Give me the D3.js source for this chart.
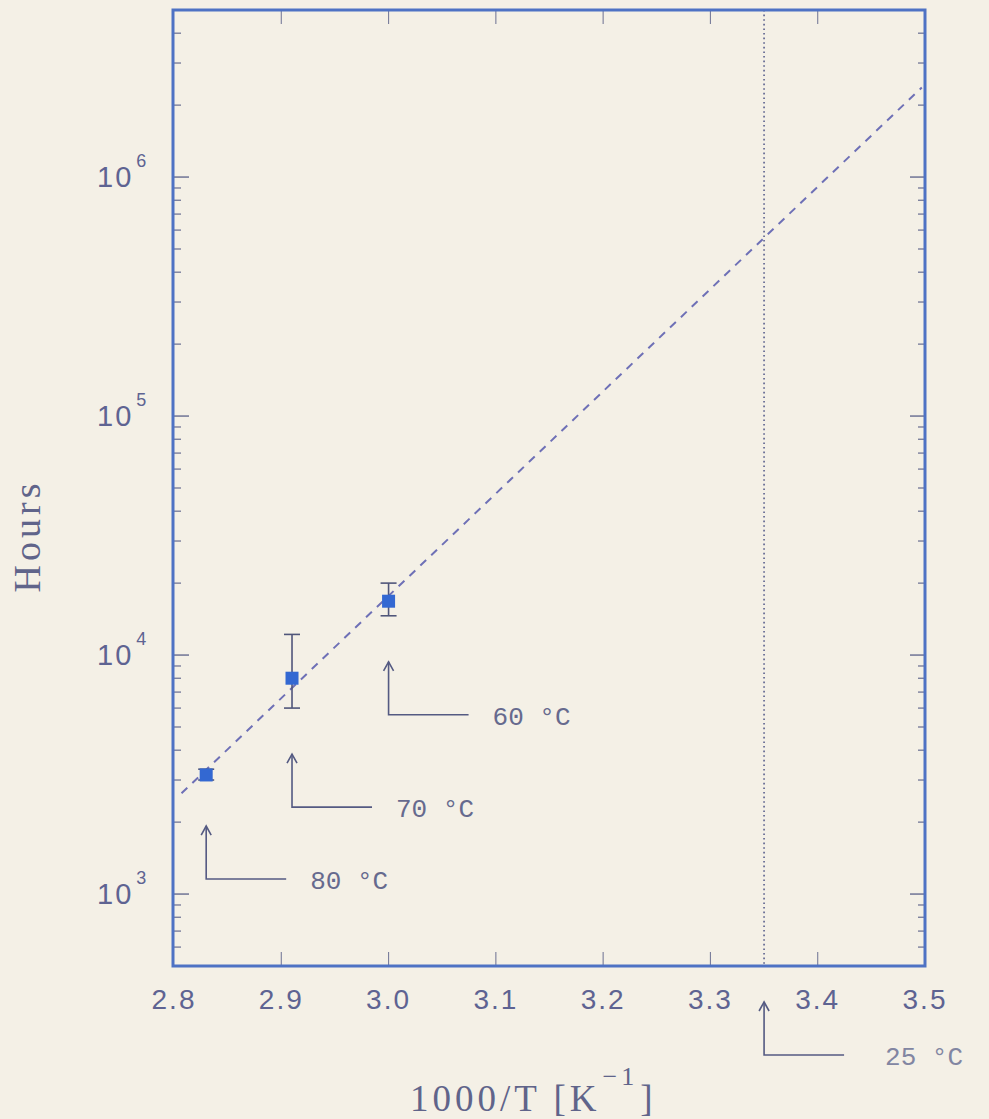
<!DOCTYPE html>
<html>
<head>
<meta charset="utf-8">
<script src="https://cdn.jsdelivr.net/npm/d3@7"></script>
<style>
    html, body { margin: 0; padding: 0; background: #f4f0e6; }
    svg { display: block; }
    .tick-label { font-family: "Liberation Sans", Arial, sans-serif; fill: #5e6392; }
    .axis-title { font-family: "Liberation Serif", "Times New Roman", serif; fill: #60648a; }
    .note { font-family: "Liberation Mono", "Courier New", monospace; fill: #666a8e; }
</style>
</head>
<body>
<svg id="chart"></svg>
<script>
// ===== DATA =====
const xTicks    = [2.8, 2.9, 3.0, 3.1, 3.2, 3.3, 3.4, 3.5];
const yDecades  = [3, 4, 5, 6];

const pointX    = [2.83, 2.91, 3.00];
const pointY    = [3150, 8000, 16800];
const errLow    = [3000, 6000, 14600];
const errHigh   = [3330, 12200, 20000];
const tempLabel = ['80 °C', '70 °C', '60 °C'];

// fitted line
const fitX = [2.807, 3.497];
const fitY = [2640, 2370000];

// room temperature marker
const roomX     = 3.35;
const roomLabel = '25 °C';

// ===== LAYOUT =====
const W = 989, H = 1119;
const pL = 174, pR = 925, pT = 10, pB = 966;

const svg = d3.select('#chart').attr('width', W).attr('height', H);

const x = d3.scaleLinear().domain([2.8, 3.5]).range([pL, pR]);
const y = d3.scaleLog().domain([500, 5e6]).range([pB, pT]);

const frameColor = '#4e72c4';
const tickColor  = '#5a6088';

// minor log ticks (2..9 per decade) inside the domain
const minorTicks = [];
for (let d = 2; d <= 6; d++) {
    for (let m = 2; m <= 9; m++) {
        const v = m * Math.pow(10, d);
        if (v >= 500 && v <= 5e6) minorTicks.push(v);
    }
}
const majorTicks = yDecades.map(d => Math.pow(10, d));

// ===== AXES (ticks on all four sides) =====
const g = svg.append('g');

// left / right y ticks
[[pL, 1], [pR, -1]].forEach(([x0, dir]) => {
    g.selectAll(null).data(majorTicks).enter().append('line')
        .attr('x1', x0).attr('x2', x0 + dir * 15)
        .attr('y1', d => y(d)).attr('y2', d => y(d))
        .attr('stroke', tickColor).attr('stroke-width', 1.3);
    g.selectAll(null).data(minorTicks).enter().append('line')
        .attr('x1', x0).attr('x2', x0 + dir * 7)
        .attr('y1', d => y(d)).attr('y2', d => y(d))
        .attr('stroke', tickColor).attr('stroke-width', 1.1);
});

// top / bottom x ticks
[[pB, -1], [pT, 1]].forEach(([y0, dir]) => {
    g.selectAll(null).data(xTicks.slice(1, -1)).enter().append('line')
        .attr('x1', d => x(d)).attr('x2', d => x(d))
        .attr('y1', y0).attr('y2', y0 + dir * 14)
        .attr('stroke', tickColor).attr('stroke-width', 1.1).attr('opacity', 0.8);
});

// x tick labels
g.selectAll(null).data(xTicks).enter().append('text')
    .attr('class', 'tick-label')
    .attr('x', d => x(d)).attr('y', 1009)
    .attr('text-anchor', 'middle')
    .attr('font-size', 28).attr('letter-spacing', 2)
    .text(d => d.toFixed(1));

// y tick labels: 10^n
const yl = g.selectAll(null).data(yDecades).enter().append('text')
    .attr('class', 'tick-label')
    .attr('x', 97).attr('y', d => y(Math.pow(10, d)) + 10)
    .attr('font-size', 29).attr('letter-spacing', 2);
yl.append('tspan').text('10');
yl.append('tspan').attr('dx', 3).attr('dy', -20).attr('font-size', 18).text(d => d);

// axis titles
svg.append('text')
    .attr('class', 'axis-title')
    .attr('transform', 'translate(40,536) rotate(-90)')
    .attr('text-anchor', 'middle')
    .attr('font-size', 38).attr('letter-spacing', 4)
    .text('Hours');

const xt = svg.append('text')
    .attr('class', 'axis-title')
    .attr('x', 410).attr('y', 1111)
    .attr('font-size', 37).attr('letter-spacing', 4);
xt.append('tspan').text('1000/T [K');
xt.append('tspan').attr('dx', 2).attr('dy', -26).attr('font-size', 26).text('−1');
xt.append('tspan').attr('dx', 2).attr('dy', 26).text(']');

// ===== FIT LINE =====
const line = d3.line().x(d => x(d[0])).y(d => y(d[1]));
svg.append('path')
    .datum(d3.zip(fitX, fitY))
    .attr('d', line)
    .attr('fill', 'none')
    .attr('stroke', '#6e70b6')
    .attr('stroke-width', 2)
    .attr('stroke-dasharray', '8,7');

// room temperature vertical dotted line
svg.append('line')
    .attr('x1', x(roomX)).attr('x2', x(roomX))
    .attr('y1', pT).attr('y2', pB)
    .attr('stroke', '#6a6f96')
    .attr('stroke-width', 1.8)
    .attr('stroke-dasharray', '1.6,3');

// ===== ERROR BARS + POINTS =====
const pts = d3.range(pointX.length);
const errColor = '#50567a';

svg.selectAll('.err').data(pts).enter().append('line')
    .attr('x1', i => x(pointX[i])).attr('x2', i => x(pointX[i]))
    .attr('y1', i => y(errLow[i])).attr('y2', i => y(errHigh[i]))
    .attr('stroke', errColor).attr('stroke-width', 1.6);
['low', 'high'].forEach(k => {
    svg.selectAll(null).data(pts).enter().append('line')
        .attr('x1', i => x(pointX[i]) - 8).attr('x2', i => x(pointX[i]) + 8)
        .attr('y1', i => y(k === 'low' ? errLow[i] : errHigh[i]))
        .attr('y2', i => y(k === 'low' ? errLow[i] : errHigh[i]))
        .attr('stroke', errColor).attr('stroke-width', 1.6);
});

svg.selectAll('.pt').data(pts).enter().append('rect')
    .attr('x', i => x(pointX[i]) - 6.5).attr('y', i => y(pointY[i]) - 6.5)
    .attr('width', 13).attr('height', 13)
    .attr('fill', '#3368d2');

// ===== ANNOTATIONS (arrow, L-shaped leader, label) =====
const noteColor = '#545a82';

function note(ax, tipY, label, gap, color) {
    const len = 53, run = 80;
    const a = svg.append('g').attr('stroke', noteColor).attr('stroke-width', 1.6).attr('fill', 'none');
    a.append('path').attr('d', `M${ax},${tipY} V${tipY + len} H${ax + run}`);
    a.append('path').attr('d', `M${ax - 5},${tipY + 9} L${ax},${tipY} L${ax + 5},${tipY + 9}`);
    const t = svg.append('text')
        .attr('class', 'note')
        .attr('x', ax + run + gap).attr('y', tipY + len + 10)
        .attr('font-size', 26)
        .text(label);
    if (color) t.style('fill', color);
}

pts.forEach(i => note(x(pointX[i]), y(errLow[i]) + 46, tempLabel[i], 24));
note(x(roomX), pB + 36, roomLabel, 41, '#8286a2');

// ===== FRAME =====
svg.append('rect')
    .attr('x', pL - 1).attr('y', pT)
    .attr('width', pR - pL + 1).attr('height', pB - pT)
    .attr('fill', 'none')
    .attr('stroke', frameColor)
    .attr('stroke-width', 3);
</script>
</body>
</html>
